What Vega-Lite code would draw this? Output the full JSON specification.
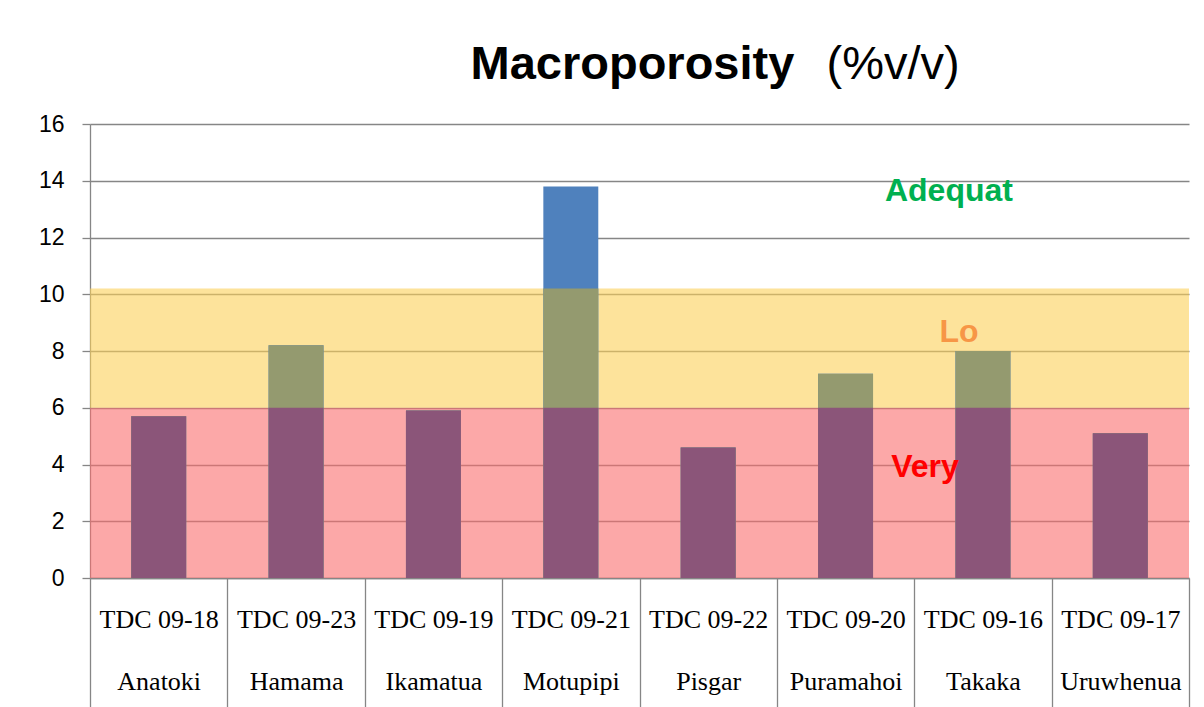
{
  "$schema": "https://vega.github.io/schema/vega-lite/v6.json",
  "width": 1099,
  "height": 454,
  "autosize": "none",
  "padding": {"left": 90, "top": 124, "right": 15, "bottom": 129},
  "background": "white",
  "config": {"view": {"stroke": null}},
  "datasets": {
    "sites": [
      {"label": "TDC 09-18|Anatoki", "value": 5.7},
      {"label": "TDC 09-23|Hamama", "value": 8.2},
      {"label": "TDC 09-19|Ikamatua", "value": 5.9},
      {"label": "TDC 09-21|Motupipi", "value": 13.8},
      {"label": "TDC 09-22|Pisgar", "value": 4.6},
      {"label": "TDC 09-20|Puramahoi", "value": 7.2},
      {"label": "TDC 09-16|Takaka", "value": 8.0},
      {"label": "TDC 09-17|Uruwhenua", "value": 5.1}
    ],
    "zones": [
      {"zone": "Very low", "lo": 0, "hi": 6},
      {"zone": "Low", "lo": 6, "hi": 10.2}
    ],
    "notes": [
      {"note": "Adequat", "label": "TDC 09-16|Takaka", "level": 13.3},
      {"note": "Lo", "label": "TDC 09-16|Takaka", "level": 8.3},
      {"note": "Very", "label": "TDC 09-16|Takaka", "level": 3.55}
    ]
  },
  "layer": [
    {
      "data": {"name": "zones"},
      "mark": {"type": "rect", "opacity": 0.6},
      "encoding": {
        "y": {
          "field": "lo", "type": "quantitative",
          "scale": {"domain": [0, 16], "nice": false},
          "title": "Macroporosity",
          "axis": {
            "values": [0, 2, 4, 6, 8, 10, 12, 14, 16],
            "grid": true, "gridColor": "#868686", "gridWidth": 1.3,
            "domainColor": "#868686", "domainWidth": 1.3,
            "tickColor": "#868686", "tickWidth": 1.3, "tickSize": 8,
            "labelFont": "Liberation Sans", "labelFontSize": 23, "labelColor": "black",
            "labelPadding": 18,
            "titleFont": "Liberation Sans", "titleFontSize": 47, "titleFontWeight": "bold",
            "titleColor": "black", "titleAngle": 0, "titleAlign": "left", "titleBaseline": "alphabetic",
            "titleX": 380, "titleY": -46
          }
        },
        "y2": {"field": "hi"},
        "color": {
          "field": "zone", "type": "nominal",
          "scale": {"domain": ["Very low", "Low"], "range": ["#FA6E6E", "#FCD058"]},
          "legend": null
        }
      }
    },
    {
      "data": {"name": "sites"},
      "mark": {"type": "bar", "color": "#4F81BD", "width": {"band": 0.4}},
      "encoding": {
        "x": {
          "field": "label", "type": "nominal", "sort": null,
          "scale": {"paddingInner": 0, "paddingOuter": 0},
          "title": "(%v/v)",
          "axis": {
            "labelExpr": "datum.value ? split(datum.value, '|') : ''",
            "labelFont": "Liberation Serif", "labelFontSize": 26, "labelColor": "black",
            "labelLineHeight": 62, "labelBaseline": "alphabetic", "labelAngle": 0,
            "labelPadding": -80, "labelLimit": 0,
            "tickBand": "extent", "tickSize": 129, "tickColor": "#868686", "tickWidth": 1.3,
            "domainColor": "#868686", "domainWidth": 1.3,
            "titleFont": "Liberation Sans", "titleFontSize": 47, "titleFontWeight": "normal",
            "titleColor": "black", "titleAlign": "left", "titleBaseline": "alphabetic",
            "titleX": 736, "titleY": -500
          }
        },
        "y": {"field": "value", "type": "quantitative", "title": "Macroporosity"}
      }
    },
    {
      "data": {"name": "sites"},
      "transform": [{"filter": "datum.value <= 10.2"}],
      "mark": {"type": "bar", "color": "#949A6F", "width": {"band": 0.4}},
      "encoding": {
        "x": {"field": "label", "type": "nominal", "sort": null, "title": "(%v/v)"},
        "y": {"field": "value", "type": "quantitative", "title": "Macroporosity"}
      }
    },
    {
      "data": {"name": "sites"},
      "transform": [{"filter": "datum.value > 10.2"}],
      "mark": {"type": "bar", "color": "#949A6F", "width": {"band": 0.4}},
      "encoding": {
        "x": {"field": "label", "type": "nominal", "sort": null, "title": "(%v/v)"},
        "y": {"datum": 10.2, "type": "quantitative", "title": "Macroporosity"}
      }
    },
    {
      "data": {"name": "sites"},
      "transform": [{"filter": "datum.value <= 6"}],
      "mark": {"type": "bar", "color": "#8B5579", "width": {"band": 0.4}},
      "encoding": {
        "x": {"field": "label", "type": "nominal", "sort": null, "title": "(%v/v)"},
        "y": {"field": "value", "type": "quantitative", "title": "Macroporosity"}
      }
    },
    {
      "data": {"name": "sites"},
      "transform": [{"filter": "datum.value > 6"}],
      "mark": {"type": "bar", "color": "#8B5579", "width": {"band": 0.4}},
      "encoding": {
        "x": {"field": "label", "type": "nominal", "sort": null, "title": "(%v/v)"},
        "y": {"datum": 6, "type": "quantitative", "title": "Macroporosity"}
      }
    },
    {
      "data": {"name": "notes"},
      "transform": [{"filter": "datum.note == 'Adequat'"}],
      "mark": {"type": "text", "font": "Liberation Sans", "fontSize": 32, "fontWeight": "bold", "color": "#00B050", "baseline": "alphabetic", "align": "center", "dx": -34},
      "encoding": {
        "x": {"field": "label", "type": "nominal", "sort": null, "title": "(%v/v)"},
        "y": {"field": "level", "type": "quantitative", "title": "Macroporosity"},
        "text": {"field": "note"}
      }
    },
    {
      "data": {"name": "notes"},
      "transform": [{"filter": "datum.note == 'Lo'"}],
      "mark": {"type": "text", "font": "Liberation Sans", "fontSize": 32, "fontWeight": "bold", "color": "#F79646", "baseline": "alphabetic", "align": "center", "dx": -24},
      "encoding": {
        "x": {"field": "label", "type": "nominal", "sort": null, "title": "(%v/v)"},
        "y": {"field": "level", "type": "quantitative", "title": "Macroporosity"},
        "text": {"field": "note"}
      }
    },
    {
      "data": {"name": "notes"},
      "transform": [{"filter": "datum.note == 'Very'"}],
      "mark": {"type": "text", "font": "Liberation Sans", "fontSize": 32, "fontWeight": "bold", "color": "#FF0000", "baseline": "alphabetic", "align": "center", "dx": -58},
      "encoding": {
        "x": {"field": "label", "type": "nominal", "sort": null, "title": "(%v/v)"},
        "y": {"field": "level", "type": "quantitative", "title": "Macroporosity"},
        "text": {"field": "note"}
      }
    }
  ]
}
